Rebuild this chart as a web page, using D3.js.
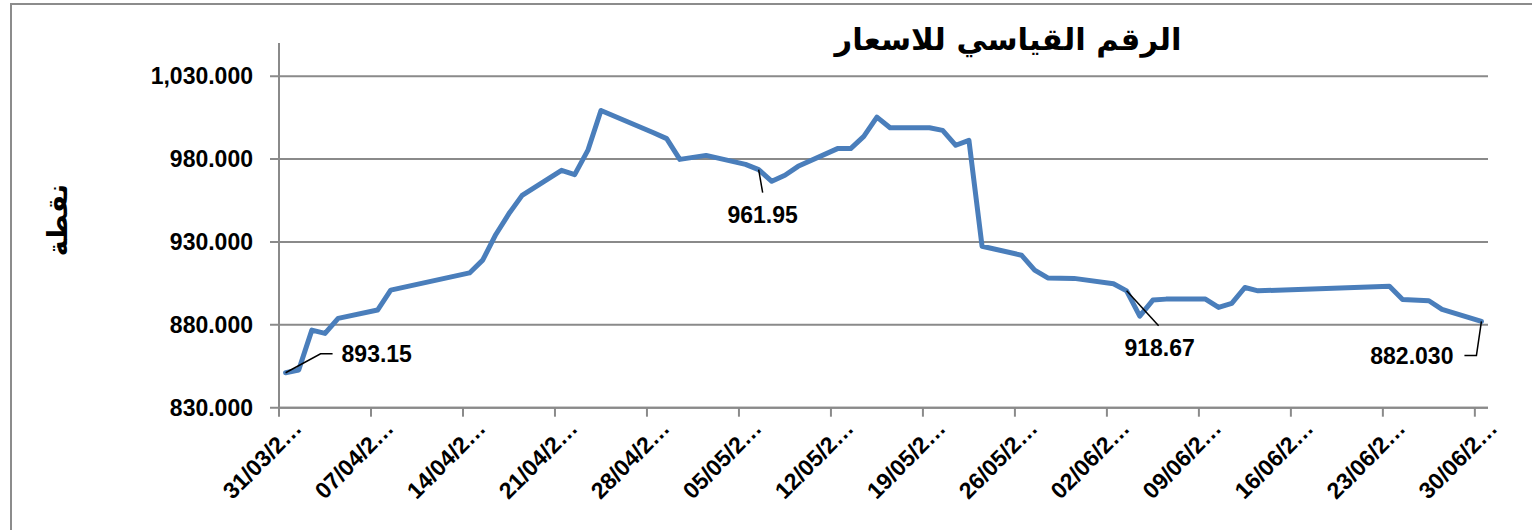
<!DOCTYPE html>
<html>
<head>
<meta charset="utf-8">
<script src="https://cdnjs.cloudflare.com/ajax/libs/d3/7.8.5/d3.min.js"></script>
<style>
  body { margin: 0; background: #fff; }
  .tick-label { font-family: 'Liberation Sans', Arial, sans-serif; font-weight: bold; fill: #000; }
  .arabic { font-family: 'DejaVu Sans', sans-serif; font-weight: bold; fill: #000; }
</style>
</head>
<body>
<script>
const dates = ['31/03/2019', '01/04/2019', '02/04/2019', '03/04/2019', '04/04/2019', '07/04/2019',
  '08/04/2019', '14/04/2019', '15/04/2019', '16/04/2019', '17/04/2019', '18/04/2019', '21/04/2019',
  '22/04/2019', '23/04/2019', '24/04/2019', '28/04/2019', '29/04/2019', '30/04/2019', '02/05/2019',
  '05/05/2019', '06/05/2019', '07/05/2019', '08/05/2019', '09/05/2019', '12/05/2019', '13/05/2019',
  '14/05/2019', '15/05/2019', '16/05/2019', '19/05/2019', '20/05/2019', '21/05/2019', '22/05/2019',
  '23/05/2019', '26/05/2019', '27/05/2019', '28/05/2019', '30/05/2019', '02/06/2019', '03/06/2019',
  '04/06/2019', '05/06/2019', '06/06/2019', '09/06/2019', '10/06/2019', '11/06/2019', '12/06/2019',
  '13/06/2019', '23/06/2019', '24/06/2019', '26/06/2019', '27/06/2019', '30/06/2019'];

const values = [851.1, 852.7, 876.8, 874.8, 883.9, 888.9,
  900.9, 911.3, 919.0, 934.5, 947.1, 958.1, 973.2,
  970.6, 985.2, 1009.3, 995.9, 992.3, 979.8, 982.2,
  976.8, 973.6, 966.6, 970.2, 975.6, 986.3, 986.3,
  993.7, 1005.3, 998.9, 998.9, 997.3, 988.3, 991.3,
  927.4, 922.0, 913.0, 908.3, 908.0, 904.8, 900.5,
  885.2, 894.9, 895.5, 895.5, 890.5, 892.9, 902.5,
  900.5, 903.3, 895.3, 894.5, 889.3, 882.03];

const yTicks = [830, 880, 930, 980, 1030];
const xTickDates = ['31/03/2019', '07/04/2019', '14/04/2019', '21/04/2019', '28/04/2019',
  '05/05/2019', '12/05/2019', '19/05/2019', '26/05/2019', '02/06/2019', '09/06/2019',
  '16/06/2019', '23/06/2019', '30/06/2019'];

// data labels shown on the chart: [date, text]
const labelDates = ['31/03/2019', '06/05/2019', '03/06/2019', '30/06/2019'];
const labelTexts = ['893.15', '961.95', '918.67', '882.030'];

const title = 'الرقم القياسي للاسعار';
const yTitle = 'نقطة';

const width = 1532;
const height = 530;
const plot = {left: 279, right: 1488, top: 43, bottom: 407.7};

const parse = d3.utcParse('%d/%m/%Y');
const data = dates.map((d, i) => ({date: parse(d), value: values[i]}));

const svg = d3.select('body').append('svg')
  .attr('width', width)
  .attr('height', height);

// chart frame (right and bottom edges run past the picture)
svg.append('rect')
  .attr('x', 11)
  .attr('y', 4)
  .attr('width', width)
  .attr('height', height)
  .attr('fill', 'none')
  .attr('stroke', '#8c8c8c')
  .attr('stroke-width', 2);

const xScale = d3.scaleUtc()
  .domain([parse('31/03/2019'), parse('01/07/2019')])
  .range([plot.left, plot.right]);

const yScale = d3.scaleLinear()
  .domain([830, 1050])
  .range([plot.bottom, plot.top]);

const halfDay = 12 * 3600 * 1000;
const px = (d) => xScale(new Date(d.getTime() + halfDay));

// gridlines
svg.append('g')
  .selectAll('line')
  .data(yTicks)
  .enter()
  .append('line')
  .attr('x1', plot.left - 9)
  .attr('x2', plot.right)
  .attr('y1', d => yScale(d))
  .attr('y2', d => yScale(d))
  .attr('stroke', '#8a8a8a')
  .attr('stroke-width', 2);

// y axis
svg.append('line')
  .attr('x1', plot.left).attr('x2', plot.left)
  .attr('y1', plot.top).attr('y2', plot.bottom)
  .attr('stroke', '#8a8a8a')
  .attr('stroke-width', 2);

svg.append('g')
  .selectAll('text')
  .data(yTicks)
  .enter()
  .append('text')
  .attr('class', 'tick-label')
  .attr('x', plot.left - 26)
  .attr('y', d => yScale(d))
  .attr('dy', '0.36em')
  .attr('text-anchor', 'end')
  .style('font-size', '23px')
  .text(d => d3.format(',.3f')(d));

// x axis
svg.append('line')
  .attr('x1', plot.left).attr('x2', plot.right)
  .attr('y1', plot.bottom).attr('y2', plot.bottom)
  .attr('stroke', '#8a8a8a')
  .attr('stroke-width', 2);

const xTicks = xTickDates.map(parse);

svg.append('g')
  .selectAll('line')
  .data(xTicks)
  .enter()
  .append('line')
  .attr('x1', d => xScale(d)).attr('x2', d => xScale(d))
  .attr('y1', plot.bottom).attr('y2', plot.bottom + 9)
  .attr('stroke', '#8a8a8a')
  .attr('stroke-width', 2);

svg.append('g')
  .selectAll('text')
  .data(xTicks)
  .enter()
  .append('text')
  .attr('class', 'tick-label')
  .attr('text-anchor', 'end')
  .attr('transform', d => `translate(${xScale(d) + 24}, ${plot.bottom + 22}) rotate(-45)`)
  .style('font-size', '23px')
  .text(d => d3.utcFormat('%d/%m/%Y')(d).slice(0, 7) + '…');

// the series
const line = d3.line()
  .x(d => px(d.date))
  .y(d => yScale(d.value));

svg.append('path')
  .datum(data)
  .attr('d', line)
  .attr('fill', 'none')
  .attr('stroke', '#4a7ebb')
  .attr('stroke-width', 5)
  .attr('stroke-linejoin', 'round')
  .attr('stroke-linecap', 'round');

// data labels with leader lines, offsets relative to the point
const leaders = [
  {path: (x, y) => `M${x},${y} L${x + 35},${y - 19} L${x + 47},${y - 19}`, tx: 56, ty: -11, anchor: 'start'},
  {path: (x, y) => `M${x},${y} L${x + 4},${y + 23}`, tx: 4, ty: 53, anchor: 'middle'},
  {path: (x, y) => `M${x},${y} L${x + 32},${y + 35}`, tx: 33, ty: 65, anchor: 'middle'},
  {path: (x, y) => `M${x},${y} L${x - 5},${y + 34} L${x - 17},${y + 34}`, tx: -28, ty: 43, anchor: 'end'}
];

labelDates.forEach((ld, i) => {
  const d = data.find(p => p.date.getTime() === parse(ld).getTime());
  const x = px(d.date);
  const y = yScale(d.value);
  svg.append('path')
    .attr('d', leaders[i].path(x, y))
    .attr('fill', 'none')
    .attr('stroke', '#000')
    .attr('stroke-width', 1.5);
  svg.append('text')
    .attr('class', 'tick-label')
    .attr('x', x + leaders[i].tx)
    .attr('y', y + leaders[i].ty)
    .attr('text-anchor', leaders[i].anchor)
    .style('font-size', '23px')
    .text(labelTexts[i]);
});

// titles
const titleText = svg.append('text')
  .attr('class', 'arabic')
  .attr('x', 1008)
  .attr('y', 50)
  .attr('text-anchor', 'middle')
  .attr('direction', 'rtl')
  .style('font-size', '30px')
  .text(title);

// fit title to its width in the picture
const tw = titleText.node().getComputedTextLength();
titleText.style('font-size', (30 * 347 / tw) + 'px');

svg.append('text')
  .attr('class', 'arabic')
  .attr('transform', 'translate(58, 220) rotate(-90)')
  .attr('text-anchor', 'middle')
  .attr('dy', '0.35em')
  .attr('direction', 'rtl')
  .style('font-size', '27px')
  .text(yTitle);
</script>
</body>
</html>
